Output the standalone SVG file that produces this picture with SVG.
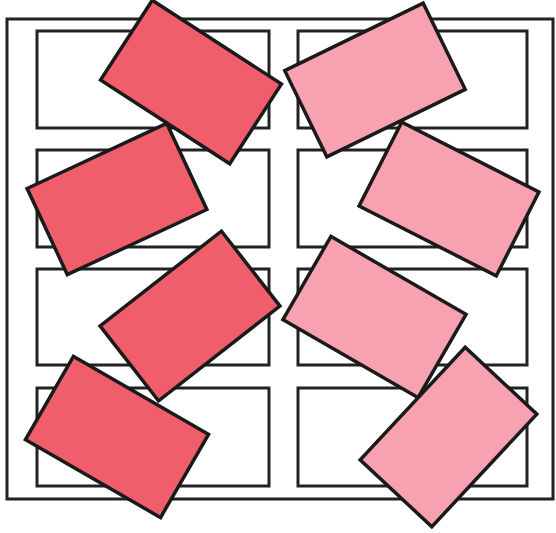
<svg xmlns="http://www.w3.org/2000/svg" width="556" height="533" viewBox="0 0 556 533">
<style>
.frame{fill:none;stroke:#222;stroke-width:3}
.slot{fill:#fff;stroke:#222;stroke-width:3}
.card{stroke:#1a1a1a;stroke-width:3.5;stroke-linejoin:miter}
.red{fill:#F15E6B}
.pink{fill:#F8A1B0}
</style>
<rect width="556" height="533" fill="#fff"/>
<g id="frame">
<rect class="frame" x="7" y="19" width="546" height="480"/>
</g>
<g id="slots">
<rect id="slot-l1" class="slot" x="37" y="31" width="232" height="97"/>
<rect id="slot-l2" class="slot" x="37" y="150" width="232" height="97"/>
<rect id="slot-l3" class="slot" x="37" y="269" width="232" height="96"/>
<rect id="slot-l4" class="slot" x="37" y="388" width="232" height="98"/>
<rect id="slot-r1" class="slot" x="298" y="31" width="229" height="97"/>
<rect id="slot-r2" class="slot" x="298" y="150" width="229" height="97"/>
<rect id="slot-r3" class="slot" x="298" y="269" width="229" height="96"/>
<rect id="slot-r4" class="slot" x="298" y="388" width="229" height="98"/>
</g>
<g id="card-l1"><rect class="card red" x="-77" y="-47.5" width="154" height="95" transform="translate(191 82) rotate(33)"/></g>
<g id="card-l2"><rect class="card red" x="-77" y="-47.5" width="154" height="95" transform="translate(117 199) rotate(-25)"/></g>
<g id="card-l3"><rect class="card red" x="-77" y="-47.5" width="154" height="95" transform="translate(190 316) rotate(-38)"/></g>
<g id="card-l4"><rect class="card red" x="-78" y="-48" width="156" height="96" transform="translate(117 437) rotate(30)"/></g>
<g id="card-r1"><rect class="card pink" x="-77" y="-48" width="154" height="96" transform="translate(375 80) rotate(-26)"/></g>
<g id="card-r2"><rect class="card pink" x="-77" y="-47" width="154" height="94" transform="translate(449 199) rotate(27)"/></g>
<g id="card-r3"><rect class="card pink" x="-78" y="-48" width="156" height="96" transform="translate(374.5 317) rotate(30)"/></g>
<g id="card-r4"><rect class="card pink" x="-77" y="-49" width="154" height="98" transform="translate(448.5 437) rotate(-47)"/></g>
</svg>
